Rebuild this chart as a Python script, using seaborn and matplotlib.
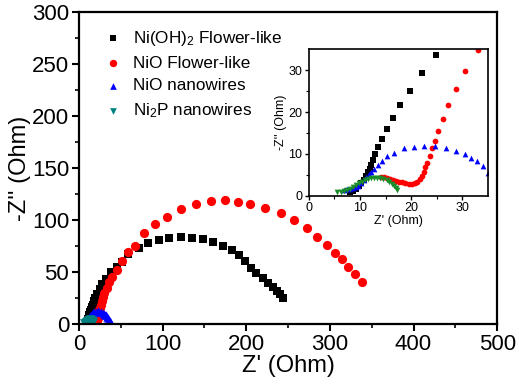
import numpy as np
import matplotlib
matplotlib.use("Agg")
import matplotlib.pyplot as plt
import seaborn as sns

# Data
nioh_x = [8.0, 8.6, 9.2, 9.8, 10.3, 10.8, 11.2, 11.6, 12.0, 12.2, 12.5, 12.9, 13.5, 14.3, 15.3,
          16.5, 17.8, 19.7, 22.1, 24.9, 28.0, 32.0, 38.0, 45.0, 51.0, 59.0, 72.0, 83.0, 95.7,
          108.0, 121.6, 134.8, 148.0, 160.7, 172.6, 183.4, 191.8, 198.6, 205.3, 211.7, 220.5,
          226.4, 231.7, 236.5, 240.4, 243.6]
nioh_y = [0.8, 1.2, 1.7, 2.3, 3.0, 3.8, 4.7, 5.6, 6.5, 7.4, 8.6, 9.9, 11.6, 13.5, 15.9,
          18.5, 21.6, 25.1, 29.2, 33.7, 38.5, 43.5, 50.3, 55.0, 60.0, 67.0, 72.8, 77.6, 80.8,
          82.4, 83.3, 83.0, 81.4, 78.5, 75.3, 71.2, 66.3, 60.9, 54.2, 49.4, 43.9,
          39.7, 35.9, 32.0, 28.5, 25.3]

nio_x = [14.1, 14.7, 15.3, 15.9, 16.5, 17.1, 17.7, 18.3, 18.9, 19.5, 20.1, 20.7, 21.2, 21.7,
         22.1, 22.5, 22.8, 23.1, 23.6, 24.1, 24.6, 25.2, 26.2, 27.3, 28.8, 30.6, 33.1, 36.5,
         40.0, 45.0, 51.0, 59.0, 66.5, 77.8, 91.0, 105.6, 121.6, 139.6, 157.5, 174.6, 189.8,
         204.5, 222.5, 241.2, 257.2, 272.4, 285.0, 296.3, 306.2, 314.2, 322.2, 330.1, 338.2]
nio_y = [4.5, 4.4, 4.2, 4.0, 3.8, 3.6, 3.4, 3.2, 3.0, 2.9, 2.9, 3.0, 3.4, 4.0,
         4.8, 5.8, 6.8, 7.9, 9.5, 11.4, 13.2, 15.5, 18.3, 21.7, 25.5, 29.8, 34.9, 40.5,
         45.5, 52.0, 60.6, 69.0, 75.0, 87.2, 95.8, 103.2, 110.3, 115.4, 118.3, 119.2, 117.6,
         115.0, 111.3, 106.4, 100.0, 92.0, 84.0, 76.0, 68.6, 62.2, 55.1, 47.8, 40.7]

niow_x = [6.8, 7.4, 8.0, 8.6, 9.2, 9.7, 10.2, 10.7, 11.2, 11.7, 12.2, 12.7, 13.5, 14.3, 15.3,
          16.7, 18.6, 20.5, 22.5, 24.6, 26.9, 28.8, 30.5, 31.8, 32.9, 34.0, 35.0, 36.0, 36.9,
          37.7, 38.3]
niow_y = [1.5, 1.6, 1.7, 1.8, 2.0, 2.4, 3.0, 3.7, 4.4, 5.2, 5.8, 6.4, 7.4, 8.3, 9.4,
          10.3, 11.4, 11.7, 12.0, 11.9, 11.4, 10.7, 9.9, 9.0, 8.2, 7.0, 5.4, 4.0, 2.8,
          1.6, 0.6]

ni2p_x = [5.6, 6.2, 6.8, 7.4, 8.0, 8.6, 9.2, 9.8, 10.4, 11.0, 11.6, 12.2, 12.8, 13.4, 14.0,
          14.6, 15.2, 15.7, 16.2, 16.6, 17.0, 17.3]
ni2p_y = [1.0, 1.0, 1.1, 1.3, 1.6, 2.0, 2.5, 3.0, 3.4, 3.8, 4.0, 4.2, 4.3, 4.3, 4.2,
          4.0, 3.7, 3.3, 2.8, 2.3, 1.8, 1.4]

labels = ["Ni(OH)$_2$ Flower-like", "NiO Flower-like", "NiO nanowires", "Ni$_2$P nanowires"]
xs = [nioh_x, nio_x, niow_x, ni2p_x]
ys = [nioh_y, nio_y, niow_y, ni2p_y]
markers = ["s", "o", "^", "v"]
main_colors = ["black", "#ff0000", "#0000ff", "#008080"]
inset_colors = ["black", "#ff0000", "#0000ff", "#1a8c2a"]
main_sizes = [32, 44, 36, 36]

sns.set_style("ticks")
plt.rcParams["font.family"] = ["Liberation Sans", "DejaVu Sans"]
plt.rcParams["mathtext.default"] = "regular"
plt.rcParams.update({"text.color": "black", "axes.labelcolor": "black",
                     "xtick.color": "black", "ytick.color": "black",
                     "axes.edgecolor": "black"})

fig = plt.figure(figsize=(5.19, 3.87), dpi=100)
ax = fig.add_axes([0.152, 0.163, 0.806, 0.806])

for x, y, m, c, s, lab in zip(xs, ys, markers, main_colors, main_sizes, labels):
    sns.scatterplot(x=x, y=y, marker=m, color=c, s=s, linewidth=0, label=lab, ax=ax)

ax.set_xlim(0, 500)
ax.set_ylim(0, 300)
ax.set_xticks(np.arange(0, 501, 100))
ax.set_xticks(np.arange(50, 500, 100), minor=True)
ax.set_yticks(np.arange(0, 301, 50))
ax.set_yticks(np.arange(25, 300, 50), minor=True)
ax.tick_params(which="major", direction="out", length=5, width=1.5, labelsize=16, pad=2)
ax.tick_params(which="minor", direction="out", length=3, width=1.2)
for sp in ax.spines.values():
    sp.set_linewidth(1.6)
ax.set_xlabel("Z' (Ohm)", fontsize=17, labelpad=0)
ax.set_ylabel("-Z'' (Ohm)", fontsize=17, labelpad=1)
ax.legend(loc="upper left", bbox_to_anchor=(0.02, 0.995), frameon=False, fontsize=12.3,
          handletextpad=0.6, labelspacing=0.45, handlelength=1.2, markerscale=0.8)

# Inset
axi = fig.add_axes([0.595, 0.494, 0.345, 0.379])
for x, y, m, c in zip(xs, ys, markers, inset_colors):
    sns.scatterplot(x=x, y=y, marker=m, color=c, s=17, linewidth=0, ax=axi, legend=False)
axi.set_xlim(0, 35)
axi.set_ylim(0, 35)
axi.set_xticks([0, 10, 20, 30])
axi.set_xticks([5, 15, 25], minor=True)
axi.set_yticks([0, 10, 20, 30])
axi.set_yticks([5, 15, 25], minor=True)
axi.tick_params(which="major", direction="out", length=3, width=1, labelsize=9, pad=1.5)
axi.tick_params(which="minor", direction="out", length=2, width=0.8)
for sp in axi.spines.values():
    sp.set_linewidth(1.2)
axi.set_xlabel("Z' (Ohm)", fontsize=9, labelpad=1)
axi.set_ylabel("-Z'' (Ohm)", fontsize=9, labelpad=1)

fig.savefig("out.png", dpi=100)
